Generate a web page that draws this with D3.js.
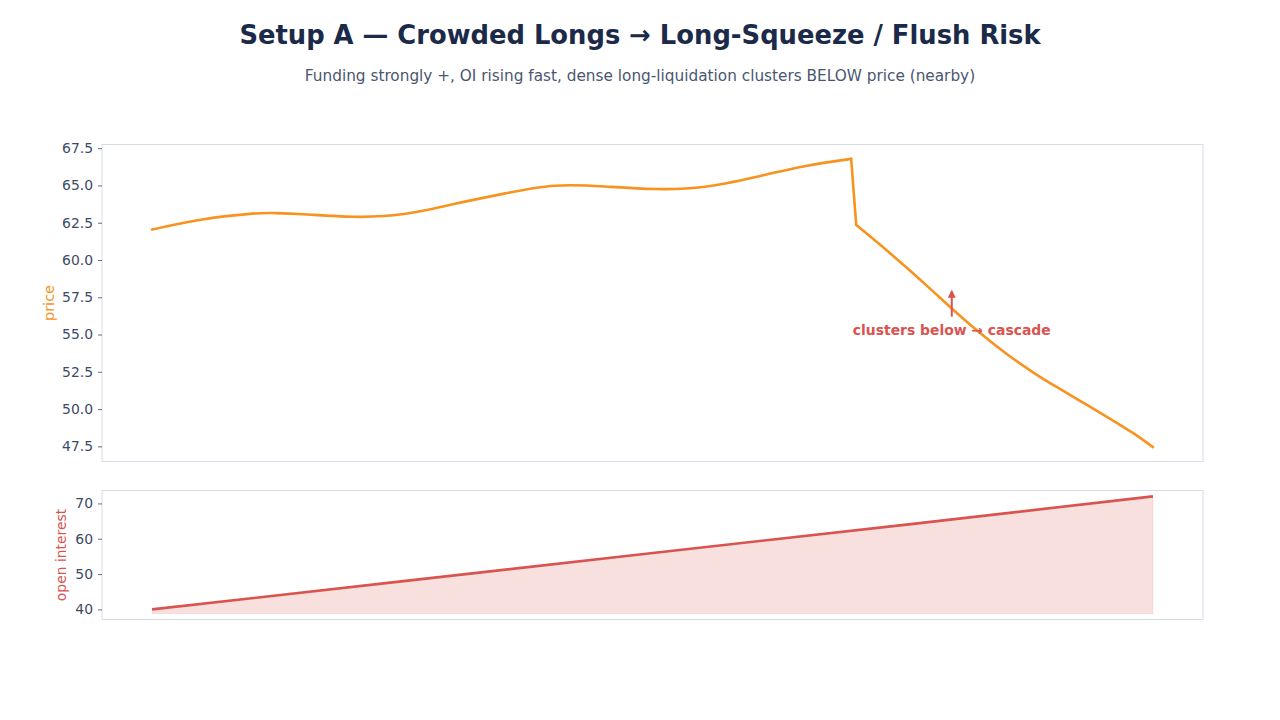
<!DOCTYPE html>
<html lang="en">
	<head>
		<meta charset="utf-8">
		<title>Setup A — Crowded Longs</title>
		<script type="text/javascript" src="https://cdn.jsdelivr.net/npm/d3@7"></script>
		<style type="text/css">
			body { margin: 0; background: #fff; }
			text { font-family: "DejaVu Sans", sans-serif; }
		</style>
	</head>
	<body>
		<script type="text/javascript">

			//Width and height
			var w = 1280;
			var h = 720;

			//Data (x = bar index, 0..199)
			var nPoints = 200;
			var priceIdx  = [0, 10, 20, 24, 30, 40, 50, 60, 70, 80, 90, 100, 110, 120, 130, 139,
			                 140, 145, 150, 155, 160, 165, 170, 175, 180, 185, 190, 195, 199];
			var priceVals = [62.04, 62.72, 63.11, 63.15, 63.07, 62.9, 63.08, 63.75, 64.45, 64.98, 64.93, 64.76, 64.91, 65.56, 66.3, 66.78,
			                 62.35, 60.95, 59.49, 57.98, 56.45, 55.0, 53.68, 52.5, 51.45, 50.45, 49.45, 48.4, 47.45];
			var dropAt = 139; // last index before the flush

			var oiIdx  = [0, 50, 100, 150, 199];
			var oiVals = [40, 48, 56.05, 64, 72];
			var oiBase = 38.8;

			var priceTicks = [47.5, 50.0, 52.5, 55.0, 57.5, 60.0, 62.5, 65.0, 67.5];
			var oiTicks = [40, 50, 60, 70];

			var priceData = priceIdx.map(function(d, i) { return { x: d, y: priceVals[i] }; });
			var oiData = oiIdx.map(function(d, i) { return { x: d, y: oiVals[i] }; });

			var orange = "#f7931e";
			var red = "#d9534f";
			var tickColor = "#3d4a66";
			var frame = "#d5dce8";

			//Panel boxes
			var left = 102, right = 1203;
			var top1 = 144.5, bot1 = 461.5;
			var top2 = 490.5, bot2 = 619.5;

			//x with 5% margins like matplotlib
			var span = nPoints - 1;
			var xScale = d3.scaleLinear()
							.domain([-0.05 * span, span * 1.05])
							.range([left, right]);

			var pMin = d3.min(priceVals), pMax = d3.max(priceVals);
			var pPad = (pMax - pMin) * 0.05;
			var yPrice = d3.scaleLinear()
							.domain([pMin - pPad, pMax + pPad])
							.range([bot1, top1]);

			var oMin = oiBase, oMax = d3.max(oiVals);
			var oPad = (oMax - oMin) * 0.05;
			var yOi = d3.scaleLinear()
							.domain([oMin - oPad, oMax + oPad])
							.range([bot2, top2]);

			//Create SVG element
			var svg = d3.select("body")
						.append("svg")
						.attr("width", w)
						.attr("height", h);

			//Title + subtitle
			svg.append("text")
			   .attr("x", 640)
			   .attr("y", 44)
			   .attr("text-anchor", "middle")
			   .attr("font-size", "25.8px")
			   .attr("font-weight", "bold")
			   .attr("fill", "#1c2a4a")
			   .text("Setup A — Crowded Longs → Long-Squeeze / Flush Risk");

			svg.append("text")
			   .attr("x", 640)
			   .attr("y", 81)
			   .attr("text-anchor", "middle")
			   .attr("font-size", "15.3px")
			   .attr("fill", "#4a5670")
			   .text("Funding strongly +, OI rising fast, dense long-liquidation clusters BELOW price (nearby)");

			//Frames
			svg.append("rect")
			   .attr("x", left).attr("y", top1)
			   .attr("width", right - left).attr("height", bot1 - top1)
			   .attr("fill", "none").attr("stroke", frame);

			svg.append("rect")
			   .attr("x", left).attr("y", top2)
			   .attr("width", right - left).attr("height", bot2 - top2)
			   .attr("fill", "none").attr("stroke", frame);

			//Y axes
			function styleAxis(g) {
				g.select(".domain").remove();
				g.selectAll(".tick line").attr("stroke", tickColor).attr("stroke-opacity", 0.8);
				g.selectAll(".tick text")
				 .attr("fill", tickColor)
				 .attr("font-size", "13.9px")
				 .attr("font-family", "DejaVu Sans, sans-serif");
			}

			svg.append("g")
			   .attr("transform", "translate(" + left + ",0)")
			   .call(d3.axisLeft(yPrice).tickValues(priceTicks).tickFormat(d3.format(".1f")).tickSize(4).tickPadding(5))
			   .call(styleAxis);

			svg.append("g")
			   .attr("transform", "translate(" + left + ",0)")
			   .call(d3.axisLeft(yOi).tickValues(oiTicks).tickFormat(d3.format("d")).tickSize(4).tickPadding(5))
			   .call(styleAxis);

			//Axis labels
			svg.append("text")
			   .attr("transform", "translate(54," + ((top1 + bot1) / 2) + ") rotate(-90)")
			   .attr("text-anchor", "middle")
			   .attr("font-size", "14.5px")
			   .attr("fill", orange)
			   .text("price");

			svg.append("text")
			   .attr("transform", "translate(66," + ((top2 + bot2) / 2) + ") rotate(-90)")
			   .attr("text-anchor", "middle")
			   .attr("font-size", "13.9px")
			   .attr("fill", red)
			   .text("open interest");

			//Price line: smooth before and after the flush, straight drop between
			var before = priceData.filter(function(d) { return d.x <= dropAt; });
			var after = priceData.filter(function(d) { return d.x > dropAt; });
			var drop = [before[before.length - 1], after[0]];

			var smooth = d3.line()
							.x(function(d) { return xScale(d.x); })
							.y(function(d) { return yPrice(d.y); })
							.curve(d3.curveNatural);
			var straight = d3.line()
							.x(function(d) { return xScale(d.x); })
							.y(function(d) { return yPrice(d.y); });

			svg.selectAll("path.price")
			   .data([
			   		smooth(before),
			   		straight(drop),
			   		smooth(after)
			   ])
			   .enter()
			   .append("path")
			   .attr("class", "price")
			   .attr("d", function(d) { return d; })
			   .attr("fill", "none")
			   .attr("stroke", orange)
			   .attr("stroke-width", 2.6)
			   .attr("stroke-linecap", "round");

			//Annotation
			var annX = 159, annTip = 57.9, annTail = 56.2, annText = 55.0;

			svg.append("defs").append("marker")
			   .attr("id", "arrow")
			   .attr("viewBox", "0 0 10 10")
			   .attr("refX", 8).attr("refY", 5)
			   .attr("markerWidth", 4).attr("markerHeight", 4)
			   .attr("orient", "auto")
			   .append("path")
			   .attr("d", "M0,0 L10,5 L0,10 z")
			   .attr("fill", red);

			svg.append("line")
			   .attr("x1", xScale(annX)).attr("y1", yPrice(annTail))
			   .attr("x2", xScale(annX)).attr("y2", yPrice(annTip))
			   .attr("stroke", red)
			   .attr("stroke-width", 2)
			   .attr("marker-end", "url(#arrow)");

			svg.append("text")
			   .attr("x", xScale(annX))
			   .attr("y", yPrice(annText))
			   .attr("text-anchor", "middle")
			   .attr("font-size", "13.9px")
			   .attr("font-weight", "bold")
			   .attr("fill", red)
			   .text("clusters below → cascade");

			//OI area + line
			var oiArea = d3.area()
							.x(function(d) { return xScale(d.x); })
							.y0(yOi(oiBase))
							.y1(function(d) { return yOi(d.y); });

			svg.append("path")
			   .datum(oiData)
			   .attr("d", oiArea)
			   .attr("fill", red)
			   .attr("fill-opacity", 0.18)
			   .attr("stroke", red)
			   .attr("stroke-opacity", 0.1);

			var oiLine = d3.line()
							.x(function(d) { return xScale(d.x); })
							.y(function(d) { return yOi(d.y); });

			svg.append("path")
			   .datum(oiData)
			   .attr("d", oiLine)
			   .attr("fill", "none")
			   .attr("stroke", red)
			   .attr("stroke-width", 2.6);

		</script>
	</body>
</html>
